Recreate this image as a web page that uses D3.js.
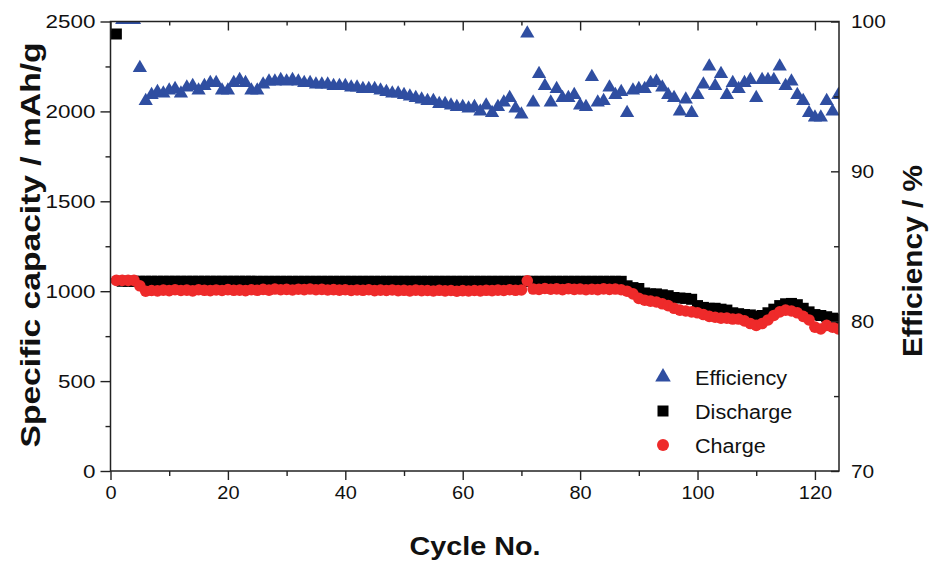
<!DOCTYPE html>
<html>
<head>
<meta charset="utf-8">
<script src="https://cdn.jsdelivr.net/npm/d3@7"></script>
<style>
  body { margin: 0; background: #fff; }
  text { font-family: "Liberation Sans", Arial, sans-serif; fill: #111; }
</style>
</head>
<body>
<svg width="929" height="561"></svg>
<script>
// values, one entry per cycle starting at cycle 1
const discharge = [2430,
  1055,1055,1055,1055,1055,1055,1055,1055,1055,1055,
  1055,1055,1055,1055,1055,1055,1055,1055,1055,1055,
  1055,1055,1055,1055,1055,1055,1055,1055,1055,1055,
  1055,1055,1055,1055,1055,1055,1055,1055,1055,1055,
  1055,1055,1055,1055,1055,1055,1055,1055,1055,1055,
  1055,1055,1055,1055,1055,1055,1055,1055,1055,1055,
  1055,1055,1055,1055,1055,1055,1055,1055,1055,1055,
  1055,1055,1055,1055,1055,1055,1055,1055,1055,1055,
  1055,1055,1055,1055,1055,1055,
  1030,1020,1015,990,985,985,980,975,965,962,
  960,955,920,910,905,905,900,895,880,875,
  870,868,860,865,880,900,920,930,932,925,
  905,885,870,865,858,850,845];

const charge = [1060,1060,1060,1060,1030,
  1000,1004,1002,1006,1003,1008,1004,1006,1002,1008,
  1005,1003,1007,1004,1009,1005,1006,1003,1008,1005,
  1010,1006,1012,1008,1010,1007,1011,1009,1012,1008,
  1010,1007,1009,1006,1008,1004,1007,1005,1008,1003,
  1006,1004,1007,1003,1005,1002,1006,1003,1004,1001,
  1005,1002,1004,1000,1003,1001,1004,1002,1005,1003,
  1006,1004,1008,1005,1007,
  1058,
  1012,1010,1015,1011,1013,1009,1014,1010,1012,1008,1011,1009,1013,1010,1012,1008,
  1000,985,960,950,945,940,930,920,905,895,
  890,885,880,870,860,855,850,850,845,845,
  835,820,810,820,840,865,885,895,890,880,
  860,840,800,790,810,800,790];

const efficiency = [null,100.1,100.1,100.1,96.9,
  94.7,95.1,95.3,95.2,95.4, 95.5,95.2,95.6,95.7,95.4,
  95.7,95.9,95.9,95.4,95.4, 95.9,96.1,95.9,95.4,95.4,
  95.8,96.0,96.0,96.1,96.0, 96.1,96.0,95.9,95.9,95.8,
  95.8,95.8,95.7,95.7,95.7, 95.6,95.6,95.5,95.5,95.5,
  95.4,95.3,95.2,95.2,95.1, 95.0,94.9,94.8,94.7,94.7,
  94.5,94.5,94.4,94.3,94.3, 94.2,94.3,94.0,94.4,93.9,
  94.3,94.6,94.9,94.2,93.8, 99.2,94.6,96.5,95.7,94.6,
  95.5,94.9,94.9,95.1,94.4, 94.3,96.3,94.6,94.7,95.6,
  95.1,95.3,93.9,95.4,95.5, 95.5,95.9,96.0,95.6,95.1,
  94.9,94.0,94.8,93.9,95.1, 95.8,97.0,95.7,96.5,95.1,
  95.9,95.5,95.9,96.1,94.9, 96.1,96.1,96.1,97.0,95.7,
  96.0,95.1,94.7,93.9,93.6, 93.6,94.7,94.0,95.1];

const xMajor = [0, 20, 40, 60, 80, 100, 120];
const xMinor = [10, 30, 50, 70, 90, 110];
const capMajor = [0, 500, 1000, 1500, 2000, 2500];
const capMinor = [250, 750, 1250, 1750, 2250];
const effMajor = [70, 80, 90, 100];
const effMinor = [75, 85, 95];
const legendItems = ["Efficiency", "Discharge", "Charge"];

const svg = d3.select("svg");
const pLeft = 110.5, pRight = 839, pTop = 21.5, pBottom = 471;

const x = d3.scaleLinear().domain([0, 124.1]).range([pLeft, pRight]);
const yCap = d3.scaleLinear().domain([0, 2500]).range([pBottom, pTop]);
const yEff = d3.scaleLinear().domain([70, 100]).range([pBottom, pTop]);

const blue = "#2f4ea1", red = "#ee2a2a";
const fmt = d3.format("d");

// stretch text a bit, the original font is wider than Arial
function widen(sel, k) {
  sel.each(function () {
    const w = this.getComputedTextLength();
    d3.select(this).attr("textLength", w * k).attr("lengthAdjust", "spacingAndGlyphs");
  });
}

svg.append("clipPath").attr("id", "plot")
  .append("rect")
  .attr("x", pLeft).attr("y", pTop)
  .attr("width", pRight - pLeft).attr("height", pBottom - pTop);

const plot = svg.append("g").attr("clip-path", "url(#plot)");

const disPts = discharge.map((v, i) => ({ c: i + 1, v }));
const chgPts = charge.map((v, i) => ({ c: i + 1, v }));
const effPts = efficiency.map((v, i) => ({ c: i + 1, v })).filter(d => d.v != null);

plot.selectAll(".dis")
  .data(disPts)
  .enter().append("path")
  .attr("d", d3.symbol(d3.symbolSquare, 121))
  .attr("transform", d => `translate(${x(d.c)},${yCap(d.v)})`)
  .style("fill", "#000");

plot.selectAll(".chg")
  .data(chgPts)
  .enter().append("circle")
  .attr("cx", d => x(d.c))
  .attr("cy", d => yCap(d.v))
  .attr("r", 5.8)
  .style("fill", red);

plot.selectAll(".eff")
  .data(effPts)
  .enter().append("path")
  .attr("d", d3.symbol(d3.symbolTriangle, 88))
  .attr("transform", d => `translate(${x(d.c)},${yEff(d.v)})`)
  .style("fill", blue);

// axes
const axisStyle = g => {
  g.select(".domain").remove();
  g.selectAll("line").attr("stroke", "#222").attr("stroke-width", 1.4);
  g.selectAll("text").style("font-size", "19px").attr("fill", "#111");
};

svg.append("g").attr("transform", `translate(0,${pBottom})`)
  .call(d3.axisBottom(x).tickValues(xMajor).tickFormat(fmt).tickSize(9).tickPadding(6))
  .call(axisStyle)
  .call(g => widen(g.selectAll("text"), 1.05));
svg.append("g").attr("transform", `translate(0,${pBottom})`)
  .call(d3.axisBottom(x).tickValues(xMinor).tickSize(5).tickFormat(""))
  .call(axisStyle);

svg.append("g").attr("transform", `translate(0,${pTop})`)
  .call(d3.axisBottom(x).tickValues(xMajor).tickSize(9).tickFormat(""))
  .call(axisStyle);
svg.append("g").attr("transform", `translate(0,${pTop})`)
  .call(d3.axisBottom(x).tickValues(xMinor).tickSize(4).tickFormat(""))
  .call(axisStyle);

svg.append("g").attr("transform", `translate(${pLeft},0)`)
  .call(d3.axisLeft(yCap).tickValues(capMajor).tickFormat(fmt).tickSize(10).tickPadding(5))
  .call(axisStyle)
  .call(g => widen(g.selectAll("text"), 1.18));
svg.append("g").attr("transform", `translate(${pLeft},0)`)
  .call(d3.axisLeft(yCap).tickValues(capMinor).tickSize(5).tickFormat(""))
  .call(axisStyle);

svg.append("g").attr("transform", `translate(${pRight},0)`)
  .call(d3.axisRight(yEff).tickValues(effMajor).tickFormat(fmt).tickSize(-8).tickPadding(12))
  .call(axisStyle)
  .call(g => widen(g.selectAll("text"), 1.1));
svg.append("g").attr("transform", `translate(${pRight},0)`)
  .call(d3.axisRight(yEff).tickValues(effMinor).tickSize(-5).tickFormat(""))
  .call(axisStyle);

svg.append("rect")
  .attr("x", pLeft).attr("y", pTop)
  .attr("width", pRight - pLeft).attr("height", pBottom - pTop)
  .style("fill", "none").style("stroke", "#222").style("stroke-width", 1.5);

// titles
svg.append("text")
  .attr("x", 475).attr("y", 555)
  .attr("text-anchor", "middle")
  .style("font-size", "26px").style("font-weight", "bold")
  .text("Cycle No.")
  .attr("textLength", 131).attr("lengthAdjust", "spacingAndGlyphs");

svg.append("text")
  .attr("transform", "translate(40,245) rotate(-90)")
  .attr("text-anchor", "middle")
  .style("font-size", "28px").style("font-weight", "bold")
  .text("Specific capacity / mAh/g")
  .attr("textLength", 405).attr("lengthAdjust", "spacingAndGlyphs");

svg.append("text")
  .attr("transform", "translate(922,261) rotate(-90)")
  .attr("text-anchor", "middle")
  .style("font-size", "28px").style("font-weight", "bold")
  .text("Efficiency / %")
  .attr("textLength", 192).attr("lengthAdjust", "spacingAndGlyphs");

// legend
const legY = [377, 411, 445];
const leg = svg.append("g");
leg.append("path")
  .attr("d", d3.symbol(d3.symbolTriangle, 105))
  .attr("transform", `translate(663,${legY[0]})`)
  .style("fill", blue);
leg.append("path")
  .attr("d", d3.symbol(d3.symbolSquare, 121))
  .attr("transform", `translate(663,${legY[1]})`)
  .style("fill", "#000");
leg.append("circle")
  .attr("cx", 663).attr("cy", legY[2]).attr("r", 6)
  .style("fill", red);

leg.selectAll(".lt")
  .data(legendItems)
  .enter().append("text")
  .attr("x", 695)
  .attr("y", (d, i) => legY[i] + 8)
  .style("font-size", "20px")
  .text(d => d)
  .call(s => widen(s, 1.08));
</script>
</body>
</html>
